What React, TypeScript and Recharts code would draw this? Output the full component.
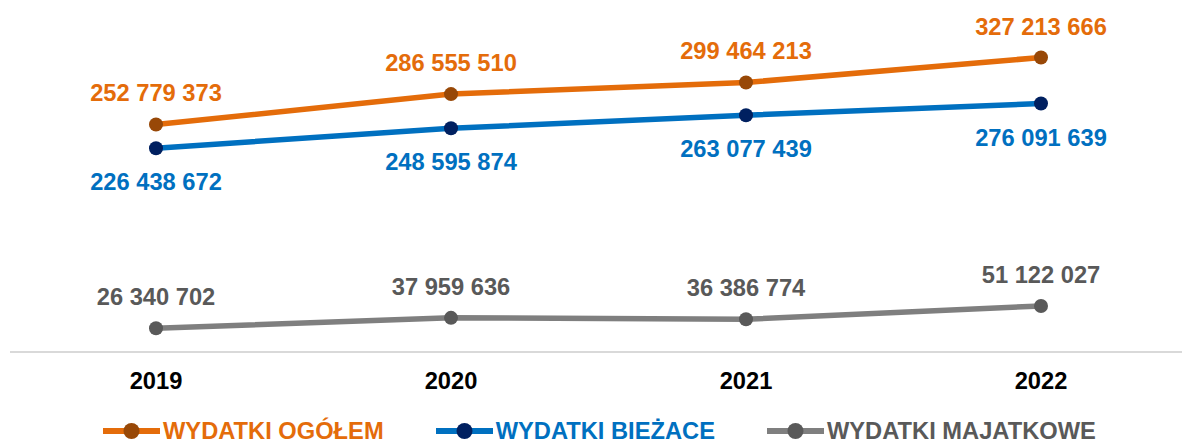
import React from 'react';
import { LineChart, Line, XAxis, YAxis, Legend, LabelList } from 'recharts';

const years = ['2019', '2020', '2021', '2022'];
const wydatkiOgolem = [252779373, 286555510, 299464213, 327213666];
const wydatkiBiezace = [226438672, 248595874, 263077439, 276091639];
const wydatkiMajatkowe = [26340702, 37959636, 36386774, 51122027];
const seriesNames = ['WYDATKI OGÓŁEM', 'WYDATKI BIEŻACE', 'WYDATKI MAJATKOWE'];

const data = years.map((year, i) => ({
  year,
  ogolem: wydatkiOgolem[i],
  biezace: wydatkiBiezace[i],
  majatkowe: wydatkiMajatkowe[i],
}));

const FONT = 'Arial, "Liberation Sans", sans-serif';
const FS = 23.7;

const series = [
  { key: 'ogolem', name: seriesNames[0], line: '#E46C0A', dot: '#984807', text: '#E46C0A', dy: -31 },
  { key: 'biezace', name: seriesNames[1], line: '#0070C0', dot: '#002060', text: '#0070C0', dy: 34 },
  { key: 'majatkowe', name: seriesNames[2], line: '#7F7F7F', dot: '#595959', text: '#595959', dy: -31 },
];

const fmt = (v: number) => String(v).replace(/\B(?=(\d{3})+(?!\d))/g, ' ');

const makeLabel = (color: string, dy: number) => (props: any) => {
  const { x, y, value } = props;
  return (
    <text
      x={x}
      y={y + dy}
      fill={color}
      textAnchor="middle"
      dominantBaseline="central"
      fontFamily={FONT}
      fontWeight="bold"
      fontSize={FS}
    >
      {fmt(Number(value))}
    </text>
  );
};

const renderLegend = () => (
  <div style={{ display: 'flex', alignItems: 'center', height: 20, paddingLeft: 103 }}>
    {series.map((s) => (
      <div key={s.key} style={{ display: 'flex', alignItems: 'center', marginRight: 52, height: 20 }}>
        <svg width={57} height={18} style={{ display: 'block' }}>
          <line x1={0} y1={9} x2={57} y2={9} stroke={s.line} strokeWidth={6} />
          <circle cx={28.5} cy={9} r={8} fill={s.dot} />
        </svg>
        <span
          style={{
            marginLeft: 3,
            color: s.text,
            fontFamily: FONT,
            fontWeight: 700,
            fontSize: FS,
            lineHeight: '20px',
            whiteSpace: 'nowrap',
          }}
        >
          {s.name}
        </span>
      </div>
    ))}
  </div>
);

export default function App() {
  return (
    <div style={{ width: 1182, height: 441 }}>
      <style>{'html,body{margin:0;padding:0;overflow:hidden}'}</style>
      <LineChart width={1182} height={441} data={data} margin={{ top: 37, right: 0, bottom: 14, left: 10 }}>
        <XAxis
          dataKey="year"
          padding={{ left: 146, right: 141 }}
          axisLine={{ stroke: '#D9D9D9', strokeWidth: 2 }}
          tickLine={false}
          tickSize={0}
          tickMargin={20}
          height={55}
          tick={{ fill: '#000000', fontSize: FS, fontWeight: 700, fontFamily: FONT }}
        />
        <YAxis hide domain={[0, 350000000]} />
        <Legend
          verticalAlign="bottom"
          content={renderLegend}
          wrapperStyle={{ left: 0, top: 421, bottom: 'auto', width: 1182, height: 20 }}
        />
        {series.map((s) => (
          <Line
            key={s.key}
            dataKey={s.key}
            name={s.name}
            stroke={s.line}
            strokeWidth={5.5}
            dot={{ r: 7, fill: s.dot, stroke: s.dot, strokeWidth: 0 }}
            activeDot={false}
            isAnimationActive={false}
          >
            <LabelList dataKey={s.key} content={makeLabel(s.text, s.dy)} />
          </Line>
        ))}
      </LineChart>
    </div>
  );
}
